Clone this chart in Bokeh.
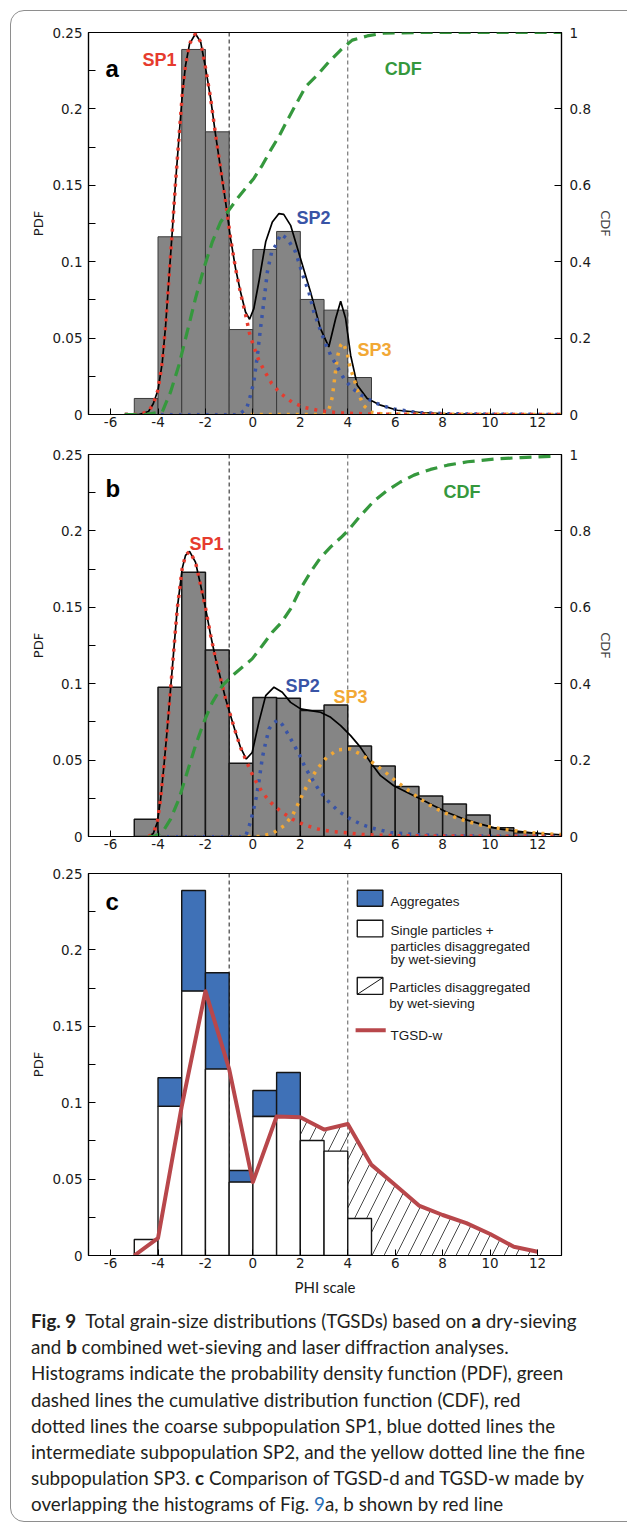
from bokeh.plotting import figure
from bokeh.models import (Range1d, LinearAxis, FixedTicker, NumeralTickFormatter,
                          Span, Div, InlineStyleSheet)
from bokeh.layouts import column
from bokeh.embed import file_html
from bokeh.resources import INLINE
from bokeh.core.properties import value

# ---------------------------------------------------------------- data
# histograms (1-phi bins, given by left edge)
bin_left_dry = [-5, -4, -3, -2, -1, 0, 1, 2, 3, 4]
pdf_dry = [0.0105, 0.1163, 0.2389, 0.1850, 0.0556, 0.1080, 0.1198, 0.0753, 0.0683, 0.0242]

bin_left_wet = [-5, -4, -3, -2, -1, 0, 1, 2, 3, 4, 5, 6, 7, 8, 9, 10, 11]
pdf_wet = [0.0113, 0.0976, 0.1730, 0.1220, 0.0480, 0.0910, 0.0905, 0.0824, 0.0861,
           0.0593, 0.0462, 0.0327, 0.0265, 0.0212, 0.0141, 0.0057, 0.0025]

# panel a fitted curves
tot_a_x = [-5.4, -4.8, -4.4, -4.2, -4.0, -3.82, -3.68, -3.54, -3.40, -3.26, -3.12, -2.98, -2.84,
           -2.67, -2.42, -2.20, -1.99, -1.78, -1.57, -1.36, -1.15, -0.94, -0.73, -0.52, -0.31,
           -0.14, 0.04, 0.25, 0.54, 0.82, 1.10, 1.30, 1.59, 2.01, 2.43, 2.85, 3.20, 3.49, 3.70,
           3.91, 4.12, 4.40, 4.82, 5.38, 6.09, 7.07, 8.2, 10.0, 13.0]
tot_a_y = [0, 0, 0.002, 0.007, 0.016, 0.034, 0.058, 0.089, 0.1195, 0.152, 0.1805, 0.2088, 0.2284,
           0.2426, 0.2492, 0.2437, 0.2263, 0.2067, 0.1827, 0.1609, 0.139, 0.1151, 0.0955, 0.0802,
           0.0671, 0.0623, 0.0693, 0.0867, 0.113, 0.126, 0.1315, 0.131, 0.1238, 0.102, 0.0802,
           0.0562, 0.0442, 0.0628, 0.0741, 0.0628, 0.0388, 0.0192, 0.0105, 0.0061, 0.0028,
           0.0013, 0.0005, 0.0002, 0]
sp1_a_x = [-5.4, -4.8, -4.4, -4.2, -4.0, -3.82, -3.68, -3.54, -3.40, -3.26, -3.12, -2.98, -2.84,
           -2.67, -2.42, -2.20, -1.99, -1.78, -1.57, -1.36, -1.15, -0.94, -0.73, -0.52, -0.31,
           -0.14, 0.04, 0.25, 0.51, 0.79, 1.17, 1.67, 2.17, 2.85, 3.7, 5.0, 7.0, 13.0]
sp1_a_y = [0, 0, 0.002, 0.007, 0.016, 0.034, 0.058, 0.089, 0.1195, 0.152, 0.1805, 0.2088, 0.2284,
           0.2426, 0.2492, 0.2437, 0.2263, 0.2067, 0.1827, 0.1609, 0.139, 0.1151, 0.0955, 0.0795,
           0.0655, 0.053, 0.0442, 0.0355, 0.0279, 0.0203, 0.0137, 0.0079, 0.0046, 0.0024, 0.001,
           0.0003, 0.0001, 0]
sp2_a_x = [-5.4, -0.6, -0.27, -0.10, 0.04, 0.19, 0.32, 0.46, 0.61, 0.79, 0.96, 1.17, 1.45, 1.80,
           2.15, 2.36, 2.57, 2.85, 3.06, 3.28, 3.56, 3.84, 4.19, 4.68, 5.24, 5.81, 6.93, 8.2,
           10.0, 13.0]
sp2_a_y = [0, 0, 0.0035, 0.0126, 0.0213, 0.0388, 0.0562, 0.0736, 0.0933, 0.1063, 0.1107, 0.118,
           0.1151, 0.1063, 0.089, 0.0802, 0.0671, 0.0551, 0.0464, 0.0388, 0.0311, 0.0235, 0.017,
           0.0115, 0.0072, 0.0039, 0.0013, 0.0005, 0.0002, 0]
sp3_a_x = [-5.4, 3.0, 3.2, 3.35, 3.42, 3.56, 3.70, 3.8, 3.98, 4.09, 4.26, 4.43, 4.65, 5.0, 5.5, 13.0]
sp3_a_y = [0, 0, 0.003, 0.0115, 0.0203, 0.0377, 0.0453, 0.047, 0.0399, 0.0311, 0.0235, 0.0148,
           0.0061, 0.0015, 0.0003, 0]
cdf_a_x = [-5.4, -4.52, -3.82, -3.47, -3.12, -2.77, -2.42, -2.07, -1.71, -1.36, -1.01, -0.66,
           -0.31, 0.04, 0.40, 0.75, 1.10, 1.45, 1.80, 2.22, 2.71, 3.20, 3.70, 4.19, 4.82, 5.5,
           7.0, 13.0]
cdf_a_y = [0, 0, 0.007, 0.059, 0.129, 0.216, 0.304, 0.382, 0.452, 0.504, 0.535, 0.565, 0.592,
           0.618, 0.653, 0.692, 0.728, 0.77, 0.81, 0.858, 0.888, 0.923, 0.954, 0.98, 0.991,
           0.998, 1.0, 1.0]

# panel b fitted curves
tot_b_x = [-4.4, -4.2, -4.03, -3.89, -3.75, -3.61, -3.47, -3.33, -3.19, -2.98, -2.84, -2.67,
           -2.42, -2.20, -1.99, -1.78, -1.57, -1.36, -1.15, -0.94, -0.73, -0.52, -0.28, -0.03,
           0.25, 0.54, 0.89, 1.24, 1.59, 2.01, 2.43, 2.85, 3.28, 3.70, 4.12, 4.54, 4.96, 5.38,
           5.94, 6.51, 7.07, 7.63, 8.20, 8.90, 9.60, 10.30, 11.01, 11.85, 13.0]
tot_b_y = [0, 0.002, 0.0092, 0.0245, 0.0463, 0.0704, 0.0966, 0.1228, 0.149, 0.1753, 0.184,
           0.1866, 0.1796, 0.1643, 0.149, 0.1316, 0.1163, 0.1032, 0.0901, 0.0791, 0.0682,
           0.0583, 0.0507, 0.055, 0.0747, 0.0922, 0.0977, 0.0944, 0.0878, 0.0835, 0.0824,
           0.0813, 0.078, 0.0726, 0.066, 0.0583, 0.0485, 0.0398, 0.0332, 0.0288, 0.0245,
           0.0201, 0.0157, 0.0114, 0.0081, 0.0052, 0.0037, 0.0022, 0.001]
sp1_b_x = [-4.4, -4.2, -4.03, -3.89, -3.75, -3.61, -3.47, -3.33, -3.19, -2.98, -2.84, -2.67,
           -2.42, -2.20, -1.99, -1.78, -1.57, -1.36, -1.15, -0.94, -0.73, -0.52, -0.28, -0.10,
           0.11, 0.40, 0.75, 1.17, 1.66, 2.18, 2.74, 3.31, 4.0, 4.6, 6.0, 13.0]
sp1_b_y = [0, 0.002, 0.0092, 0.0245, 0.0463, 0.0704, 0.0966, 0.1228, 0.149, 0.1753, 0.184,
           0.1866, 0.1796, 0.1643, 0.149, 0.1316, 0.1163, 0.1032, 0.0901, 0.0791, 0.0682,
           0.0583, 0.0495, 0.043, 0.0365, 0.0288, 0.0223, 0.0165, 0.0114, 0.0075, 0.0049,
           0.0033, 0.0024, 0.0013, 0.0005, 0]
sp2_b_x = [-4.4, -0.31, -0.13, 0.02, 0.14, 0.25, 0.40, 0.54, 0.68, 0.85, 1.05, 1.25, 1.42, 1.70,
           1.98, 2.22, 2.50, 2.82, 3.20, 3.62, 4.12, 4.61, 5.17, 5.81, 6.79, 8.2, 13.0]
sp2_b_y = [0, 0, 0.0081, 0.0168, 0.0256, 0.0354, 0.0518, 0.0616, 0.0704, 0.074, 0.0763, 0.073,
           0.0686, 0.061, 0.0529, 0.0446, 0.0376, 0.0295, 0.0227, 0.0164, 0.0114, 0.0077,
           0.0049, 0.0026, 0.0013, 0.0004, 0]
sp3_b_x = [-4.4, 0.3, 0.83, 1.31, 1.66, 1.90, 2.15, 2.43, 2.74, 3.11, 3.58, 4.12, 4.65, 5.12,
           5.59, 6.01, 6.48, 6.96, 7.43, 7.96, 8.48, 9.05, 9.60, 10.16, 10.73, 11.29, 11.99,
           12.7, 13.0]
sp3_b_y = [0, 0, 0.002, 0.007, 0.0136, 0.0212, 0.0293, 0.0376, 0.0448, 0.0518, 0.0568, 0.0573,
           0.0529, 0.0475, 0.042, 0.0365, 0.0311, 0.0256, 0.0208, 0.0164, 0.0129, 0.0098,
           0.0075, 0.0059, 0.0044, 0.0033, 0.0022, 0.0015, 0.0013]
cdf_b_x = [-4.4, -4.17, -3.82, -3.47, -3.12, -2.77, -2.42, -2.07, -1.71, -1.29, -0.87, -0.45,
           -0.03, 0.40, 0.82, 1.20, 1.59, 2.01, 2.43, 2.85, 3.28, 3.70, 4.0, 4.54, 5.10, 5.66,
           6.22, 6.79, 7.49, 8.20, 9.05, 10.16, 11.29, 12.83]
cdf_b_y = [0, 0, 0.0105, 0.0456, 0.098, 0.168, 0.238, 0.299, 0.351, 0.395, 0.421, 0.443,
           0.465, 0.5, 0.535, 0.56, 0.596, 0.649, 0.692, 0.73, 0.758, 0.782, 0.8, 0.84, 0.878,
           0.906, 0.928, 0.946, 0.961, 0.972, 0.981, 0.988, 0.992, 0.996]

# ticks
phi_ticks = [-6, -4, -2, 0, 2, 4, 6, 8, 10, 12]
pdf_ticks = [0, 0.05, 0.1, 0.15, 0.2, 0.25]
pdf_minor = [0.025, 0.075, 0.125, 0.175, 0.225]
cdf_ticks = [0, 0.2, 0.4, 0.6, 0.8, 1.0]
sieve_limits = [-1, 4]

# ---------------------------------------------------------------- style
RED, BLUE, ORANGE, GREEN = "#e63b2e", "#3954a6", "#f2a835", "#35983d"
TICK_FONT = "DejaVu Sans"
ARIAL = "Liberation Sans"
W = 627


def base_fig(h, top_b, bot_b):
    p = figure(width=W, height=h, x_range=Range1d(-6.93, 13.01), y_range=Range1d(0, 0.25),
               output_backend="svg", toolbar_location=None,
               min_border_left=88, min_border_right=66, min_border_top=top_b,
               min_border_bottom=bot_b)
    p.xgrid.visible = False
    p.ygrid.visible = False
    p.outline_line_color = "black"
    p.outline_line_width = 1.2
    p.background_fill_color = "white"
    p.border_fill_color = "white"
    for ax in (p.xaxis[0], p.yaxis[0]):
        ax.axis_line_color = "black"
        ax.axis_line_width = 1.2
        ax.major_tick_line_color = "black"
        ax.minor_tick_line_color = "black"
        ax.major_tick_out = 0
        ax.minor_tick_out = 0
        ax.major_label_text_font = TICK_FONT
        ax.major_label_text_font_size = "13.5px"
        ax.major_label_text_color = "#1a1a1a"
        ax.axis_label_text_font = TICK_FONT
        ax.axis_label_text_font_size = "13px"
        ax.axis_label_text_font_style = "normal"
        ax.axis_label_text_color = "#1a1a1a"
    xa = p.xaxis[0]
    xa.ticker = FixedTicker(ticks=phi_ticks, minor_ticks=[])
    xa.formatter = NumeralTickFormatter(format="0")
    xa.major_tick_in = 6
    xa.major_label_standoff = 2
    ya = p.yaxis[0]
    ya.ticker = FixedTicker(ticks=pdf_ticks, minor_ticks=pdf_minor)
    ya.formatter = NumeralTickFormatter(format="0.[00]")
    ya.major_tick_in = 7
    ya.minor_tick_in = 7
    ya.major_label_standoff = 6
    ya.axis_label = "PDF"
    ya.axis_label_standoff = 3
    for loc in sieve_limits:
        p.add_layout(Span(location=loc, dimension="height",
                          line_color="#1a1a1a" if loc < 0 else "#5a5a5a",
                          line_width=1, line_dash="4 3", level="underlay"))
    return p


def add_cdf_axis(p):
    p.extra_y_ranges = {"cdf": Range1d(0, 1)}
    ra = LinearAxis(y_range_name="cdf", axis_label="CDF",
                    ticker=FixedTicker(ticks=cdf_ticks, minor_ticks=[]),
                    formatter=NumeralTickFormatter(format="0.[0]"))
    ra.axis_line_color = "black"
    ra.axis_line_width = 1.2
    ra.major_tick_out = 0
    ra.major_tick_in = 7
    ra.major_label_standoff = 8
    ra.major_label_text_font = TICK_FONT
    ra.major_label_text_font_size = "13.5px"
    ra.major_label_text_color = "#1a1a1a"
    ra.axis_label_text_font = TICK_FONT
    ra.axis_label_text_font_size = "13px"
    ra.axis_label_text_font_style = "normal"
    ra.axis_label_standoff = 4
    p.add_layout(ra, "right")


def bold_label(p, x, y, txt, color, size):
    p.text(x=[x], y=[y], text=[txt], text_color=color, text_font=value(ARIAL),
           text_font_style="bold", text_font_size=size, text_baseline="alphabetic",
           text_align="left")


def panel(h, top_b, bot_b, bins, pdf, tot, sp1, sp2, sp3, cdf, outline, owidth, labels):
    p = base_fig(h, top_b, bot_b)
    add_cdf_axis(p)
    p.quad(left=bins, right=[b + 1 for b in bins], bottom=0, top=pdf,
           fill_color="#858585", line_color=outline, line_width=owidth)
    p.line(tot[0], tot[1], line_color="black", line_width=1.7)
    for (xs, ys), col in ((sp3, ORANGE), (sp2, BLUE), (sp1, RED)):
        p.line(xs, ys, line_color=col, line_width=3.5, line_dash="3 6", line_cap="butt")
    p.line(cdf[0], cdf[1], y_range_name="cdf", line_color=GREEN, line_width=3.2,
           line_dash="12 7")
    for (x, y, txt, col, size) in labels:
        bold_label(p, x, y, txt, col, size)
    return p


# ---------------------------------------------------------------- panel a
pa = panel(440, 32, 26, bin_left_dry, pdf_dry,
           (tot_a_x, tot_a_y), (sp1_a_x, sp1_a_y), (sp2_a_x, sp2_a_y), (sp3_a_x, sp3_a_y),
           (cdf_a_x, cdf_a_y), "#3a3a3a", 1.0,
           [(-6.21, 0.2263, "a", "black", "24px"),
            (-4.65, 0.2318, "SP1", RED, "18px"),
            (5.56, 0.2263, "CDF", GREEN, "18px"),
            (1.84, 0.1287, "SP2", BLUE, "18px"),
            (4.41, 0.0421, "SP3", ORANGE, "18px")])

# ---------------------------------------------------------------- panel b
pb = panel(417, 14, 21, bin_left_wet, pdf_wet,
           (tot_b_x, tot_b_y), (sp1_b_x, sp1_b_y), (sp2_b_x, sp2_b_y), (sp3_b_x, sp3_b_y),
           (cdf_b_x, cdf_b_y), "#151515", 1.5,
           [(-6.21, 0.2277, "b", "black", "24px"),
            (-2.67, 0.1917, "SP1", RED, "18px"),
            (8.04, 0.2255, "CDF", GREEN, "18px"),
            (1.38, 0.0988, "SP2", BLUE, "18px"),
            (3.40, 0.0911, "SP3", ORANGE, "18px")])

# ---------------------------------------------------------------- panel c
pc = base_fig(443, 16, 45)
pc.xaxis[0].axis_label = "PHI scale"
pc.xaxis[0].axis_label_text_font = "Lato"
pc.xaxis[0].axis_label_text_font_size = "15px"
pc.xaxis[0].axis_label_standoff = 7

line_x = [bin_left_wet[0]] + [b + 1 for b in bin_left_wet]
line_y = [0.0] + pdf_wet
white_top = [min(d, w) for d, w in zip(pdf_dry, pdf_wet)]
agg_idx = [i for i in range(len(pdf_dry)) if pdf_dry[i] > pdf_wet[i]]

# hatched area: under TGSD-w from phi = 2 onwards
h0 = line_x.index(2)
hx = line_x[h0:] + [line_x[-1], line_x[h0]]
hy = line_y[h0:] + [0.0, 0.0]
pc.patch(hx, hy, fill_color="white", fill_alpha=0.0, line_color=None,
         hatch_pattern="/", hatch_color="#1a1a1a", hatch_weight=0.8, hatch_scale=24)

pc.quad(left=[bin_left_dry[i] for i in agg_idx], right=[bin_left_dry[i] + 1 for i in agg_idx],
        bottom=[white_top[i] for i in agg_idx], top=[pdf_dry[i] for i in agg_idx],
        fill_color="#3f71b7", line_color="#151515", line_width=1.4)
pc.quad(left=bin_left_dry, right=[b + 1 for b in bin_left_dry], bottom=0, top=white_top,
        fill_color="white", line_color="#151515", line_width=1.4)
pc.line(line_x, line_y, line_color="#b8474b", line_width=4, line_join="round")
bold_label(pc, -6.21, 0.2314, "c", "black", "24px")

# legend (drawn in data units of panel c)
LX, LW = 4.94, 1.08
pc.rect(x=[LX], y=[0.2338], width=LW, height=0.0105, fill_color="#3f71b7",
        line_color="#151515", line_width=1.4)
pc.rect(x=[LX], y=[0.2140], width=LW, height=0.0109, fill_color="white",
        line_color="#151515", line_width=1.4)
pc.rect(x=[LX], y=[0.1764], width=LW, height=0.0110, fill_color="white",
        line_color="#151515", line_width=1.4)
pc.segment(x0=[LX - LW / 2], y0=[0.1764 - 0.0055], x1=[LX + LW / 2], y1=[0.1764 + 0.0055],
           line_color="#151515", line_width=1)
pc.segment(x0=[4.33], y0=[0.1474], x1=[5.60], y1=[0.1474], line_color="#b8474b",
           line_width=4)
leg_x = [5.80, 5.80, 5.80, 5.80, 5.75, 5.75, 5.80]
leg_y = [0.2319, 0.2129, 0.2024, 0.1937, 0.1751, 0.1649, 0.1441]
leg_t = ["Aggregates", "Single particles +", "particles disaggregated", "by wet-sieving",
         "Particles disaggregated", "by wet-sieving", "TGSD-w"]
pc.text(x=leg_x, y=leg_y, text=leg_t, text_font=value(ARIAL), text_font_size="13.5px",
        text_color="#1a1a1a", text_baseline="alphabetic", text_align="left")

# ---------------------------------------------------------------- caption
caption = Div(width=W, height=223, text=(
    '<div style="font-family:Lato;font-size:18.8px;line-height:26.2px;color:#231f20;'
    'padding:3px 0 0 26px;white-space:nowrap;">'
    '<b>Fig. 9</b>&nbsp; Total grain-size distributions (TGSDs) based on <b>a</b> dry-sieving<br>'
    'and <b>b</b> combined wet-sieving and laser diffraction analyses.<br>'
    'Histograms indicate the probability density function (PDF), green<br>'
    'dashed lines the cumulative distribution function (CDF), red<br>'
    'dotted lines the coarse subpopulation SP1, blue dotted lines the<br>'
    'intermediate subpopulation SP2, and the yellow dotted line the fine<br>'
    'subpopulation SP3. <b>c</b> Comparison of TGSD-d and TGSD-w made by<br>'
    'overlapping the histograms of Fig. <span style="color:#2b70b5">9</span>a, b shown by red line'
    '</div>'))

frame_css = InlineStyleSheet(css=(
    ":host{position:relative;overflow:hidden;}"
    ":host::after{content:'';position:absolute;left:10px;top:10px;width:640px;height:1510px;"
    "border:1px solid #8e8e8e;border-radius:14px;pointer-events:none;z-index:50;}"))

layout = column(pa, pb, pc, caption, spacing=0, stylesheets=[frame_css])

open("out.html", "w").write(file_html(layout, INLINE))
